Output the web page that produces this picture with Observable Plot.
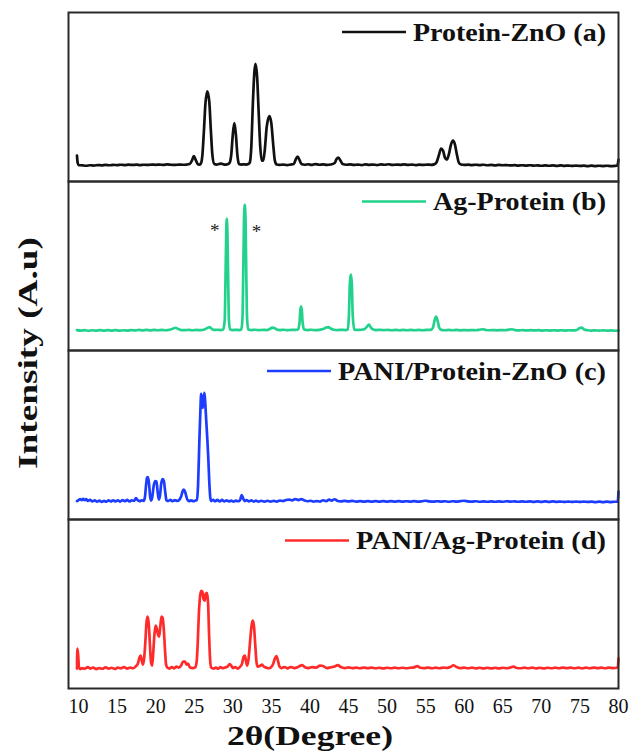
<!DOCTYPE html>
<html><head><meta charset="utf-8">
<script src="https://cdn.jsdelivr.net/npm/d3@7"></script>
<script src="https://cdn.jsdelivr.net/npm/@observablehq/plot@0.6"></script>
<style>body{margin:0;background:#fff}</style>
</head><body><div id="chart"></div>
<script>
// ---- data (2θ in degrees, intensity in arbitrary units) ----
const panels = ["a", "b", "c", "d"];
const seriesNames = ["Protein-ZnO (a)", "Ag-Protein (b)", "PANI/Protein-ZnO (c)", "PANI/Ag-Protein (d)"];
const seriesColors = ["#111111", "#22d18b", "#1c3cff", "#ff2b2b"];
const xTicks = [10, 15, 20, 25, 30, 35, 40, 45, 50, 55, 60, 65, 70, 75, 80];
const xTitle = "2θ(Degree)";
const yTitle = "Intensity (A.u)";
const asteriskMarks = [[27.67, 124], [33.07, 123]];

const proteinZnO = [
[9.8,26],[9.88,19],[10.0,16.5],[10.5,16.2],[11,15.8],[11.5,16.3],[12,16],[12.5,16.5],[13,16.2],[13.5,16.6],[14,16.3],[14.5,16.7],[15,16.4],[15.5,16.8],[16,16.5],[16.5,16.9],[17,16.6],[17.5,16.9],[18,16.5],[18.5,16.8],[19,16.6],[19.5,17],[20,16.7],[20.5,17],[21,16.6],[21.5,17.1],[22,16.8],[22.5,16.6],[23,17],[23.5,16.8],[24,17],[24.4,17.5],[24.7,21],[24.95,25.5],[25.2,21.5],[25.45,17.5],[25.65,17],[25.85,18],[26.05,26],[26.25,50],[26.45,78],[26.7,90.5],[26.95,80],[27.15,52],[27.35,27],[27.6,17.5],[27.9,17],[28.2,17.5],[28.5,18],[28.8,17.2],[29.1,17],[29.4,17.5],[29.6,19],[29.8,27],[30.0,47],[30.2,58.5],[30.4,47],[30.6,26],[30.8,17.5],[31.1,17],[31.4,17.2],[31.7,17],[32.0,17.5],[32.2,19],[32.4,35],[32.6,78],[32.8,110],[32.95,118],[33.15,105],[33.35,70],[33.55,36],[33.75,21],[33.95,21],[34.15,32],[34.4,55],[34.75,65.5],[35.0,58],[35.25,36],[35.45,21],[35.7,17],[36.0,16.6],[36.5,17],[37.0,16.5],[37.5,17],[37.9,17.5],[38.15,22],[38.4,25],[38.65,21.5],[38.9,17.5],[39.3,16.8],[39.8,17.3],[40.2,16.6],[40.7,17.5],[41.2,16.8],[41.7,17.2],[42.2,16.6],[42.7,17],[43.2,18.5],[43.45,22.5],[43.7,24],[43.95,21],[44.25,17.5],[44.7,16.8],[45.2,17.2],[45.7,16.6],[46.2,17],[46.7,16.5],[47.2,17.2],[47.7,16.7],[48.2,17],[48.7,16.5],[49.2,17.2],[49.7,16.8],[50.2,17.3],[50.7,16.6],[51.2,17],[51.7,16.7],[52.2,17.2],[52.7,16.6],[53.2,17],[53.7,16.5],[54.2,16.9],[54.7,16.6],[55.2,17],[55.7,16.7],[56.1,17.2],[56.4,19],[56.7,26],[57.0,33],[57.25,31],[57.5,24],[57.75,22],[58.0,27],[58.25,36],[58.55,41],[58.8,37],[59.05,27],[59.3,19],[59.6,17],[60.0,16.6],[60.5,16.9],[61,16.5],[61.5,16.8],[62,16.4],[62.5,16.8],[63,16.3],[63.5,16.6],[64,16.2],[64.5,16.6],[65,16.3],[65.5,16.5],[66,16.1],[66.5,16.4],[67,16],[67.5,16.3],[68,15.9],[68.5,16.3],[69,15.9],[69.5,16.2],[70,15.8],[70.5,16.2],[71,15.8],[71.5,16.1],[72,15.7],[72.5,16.1],[73,15.7],[73.5,16],[74,15.6],[74.5,16],[75,15.6],[75.5,15.9],[76,15.5],[76.5,15.9],[77,15.5],[77.5,15.8],[78,15.5],[78.5,15.8],[79,15.4],[79.5,15.6],[79.85,16],[79.95,19],[80,22]
];

const agProtein = [
[9.8,20.5],[10.3,20],[10.8,20.4],[11.3,19.8],[11.8,20.3],[12.3,19.9],[12.8,20.4],[13.3,20],[13.8,20.5],[14.3,20],[14.8,20.4],[15.3,19.9],[15.8,20.3],[16.3,20],[16.8,20.5],[17.3,20.1],[17.8,20.6],[18.3,20.2],[18.8,20.6],[19.3,20.2],[19.8,20.7],[20.3,20.3],[20.8,20.6],[21.3,20.3],[21.8,20.8],[22.2,21.8],[22.55,22.8],[22.9,21.6],[23.3,20.5],[23.8,20.4],[24.3,20.7],[24.8,20.3],[25.3,20.6],[25.8,20.4],[26.3,21],[26.7,22.5],[27.0,23.5],[27.3,21.5],[27.6,20.6],[28.0,20.8],[28.4,20.5],[28.75,21],[28.95,30],[29.05,70],[29.15,118],[29.22,132],[29.3,118],[29.4,70],[29.5,30],[29.65,21],[30.0,20.5],[30.4,20.7],[30.8,20.5],[31.1,21],[31.25,32],[31.35,75],[31.45,130],[31.55,146],[31.65,130],[31.75,75],[31.85,32],[32.0,21],[32.4,20.5],[32.9,20.8],[33.4,20.4],[33.9,20.7],[34.4,20.5],[34.8,21.5],[35.1,23],[35.4,22.5],[35.7,21],[36.1,20.5],[36.6,20.8],[37.1,20.4],[37.6,20.7],[38.1,20.6],[38.45,21],[38.65,28],[38.75,40],[38.85,44],[38.95,40],[39.05,28],[39.25,21],[39.7,20.5],[40.2,20.8],[40.7,20.4],[41.2,20.7],[41.7,21.5],[42.1,23],[42.4,23.5],[42.7,22],[43.1,20.8],[43.6,20.5],[44.1,20.7],[44.6,20.5],[44.9,21],[45.05,35],[45.18,68],[45.3,76],[45.42,68],[45.55,35],[45.75,21],[46.2,20.6],[46.7,20.8],[47.1,21.5],[47.4,24],[47.65,26],[47.9,23],[48.2,21],[48.6,20.5],[49.1,20.7],[49.6,20.4],[50.1,20.7],[50.6,20.3],[51.1,20.6],[51.6,20.3],[52.1,20.6],[52.6,20.3],[53.1,20.6],[53.6,20.3],[54.1,20.6],[54.6,20.3],[55.1,20.6],[55.6,20.6],[55.95,23],[56.15,30],[56.35,34],[56.55,30],[56.75,23],[57.0,20.7],[57.5,20.3],[58,20.6],[58.5,20.3],[59,20.6],[59.5,20.2],[60,20.5],[60.5,20.2],[61,20.5],[61.5,20.3],[62,20.8],[62.4,21.3],[62.8,20.6],[63.3,20.3],[63.8,20.5],[64.3,20.2],[64.8,20.5],[65.3,20.3],[65.8,20.9],[66.2,21.3],[66.6,20.5],[67.1,20.2],[67.6,20.4],[68.1,20.1],[68.6,20.4],[69.1,20.1],[69.6,20.4],[70.1,20],[70.6,20.3],[71.1,20],[71.6,20.3],[72.1,20],[72.6,20.3],[73.1,20],[73.6,20.3],[74.1,20.1],[74.6,20.6],[74.95,22.5],[75.25,23],[75.55,21],[76.0,20.3],[76.5,20],[77,20.2],[77.5,19.9],[78,20.2],[78.5,19.9],[79,20.1],[79.5,19.8],[80,19.9]
];

const paniProteinZnO = [
[9.8,18.5],[10.0,19.5],[10.2,20.5],[10.4,19.3],[10.6,20.6],[10.8,19.4],[11.0,20.5],[11.2,18.6],[11.5,19.6],[11.8,18.1],[12.1,19.1],[12.4,17.9],[12.7,18.9],[13.0,17.7],[13.3,18.7],[13.6,17.9],[13.9,19.1],[14.2,18.1],[14.5,19.3],[14.8,18.1],[15.1,19.1],[15.4,17.9],[15.7,19.4],[16.0,18.3],[16.3,19.6],[16.6,18.1],[16.9,19.3],[17.2,18.6],[17.45,21.5],[17.7,19.1],[17.95,18.4],[18.2,19.2],[18.45,18.7],[18.6,22],[18.75,34],[18.88,42],[19.0,42.5],[19.15,35],[19.3,22],[19.42,19],[19.55,22],[19.75,34],[19.95,38.5],[20.1,38],[20.28,26],[20.42,20],[20.56,24],[20.72,36],[20.9,40.5],[21.05,39],[21.25,27],[21.4,19.2],[21.6,18.5],[21.9,19.6],[22.2,18.3],[22.5,19.4],[22.8,18.6],[23.05,19.6],[23.3,23],[23.5,28.5],[23.65,30],[23.8,28],[23.95,24],[24.1,20],[24.3,18.3],[24.6,19.3],[24.9,18.3],[25.15,19.1],[25.35,19.5],[25.5,35],[25.65,75],[25.8,110],[25.9,126],[26.0,118],[26.1,112],[26.2,120],[26.32,127],[26.42,118],[26.55,100],[26.7,80],[26.82,62],[26.95,38],[27.08,22],[27.2,18.5],[27.45,19.8],[27.7,18.3],[28.0,19.6],[28.3,18.2],[28.6,19.6],[28.9,18.2],[29.2,19.1],[29.5,18.1],[29.8,19],[30.1,18],[30.4,19],[30.7,18.3],[30.95,19.6],[31.15,24.5],[31.35,21],[31.55,18.5],[31.8,19.5],[32.1,18.2],[32.4,19.1],[32.7,18],[33.0,18.9],[33.3,18],[33.7,18.8],[34.1,18],[34.5,18.8],[34.9,18],[35.3,18.7],[35.7,18],[36.1,19],[36.5,18.5],[36.9,19.5],[37.3,20],[37.7,19.2],[38.1,20.5],[38.5,19.5],[38.9,20.5],[39.3,19],[39.7,18.3],[40.1,18.8],[40.5,18],[40.9,18.5],[41.3,18],[41.7,19.3],[42.1,18.5],[42.5,20],[42.8,19],[43.2,20.3],[43.6,18.6],[44.0,18.2],[44.5,18.7],[45,18.2],[45.5,18.6],[46,18],[46.5,18.5],[47,18],[47.5,18.5],[48,18],[48.5,18.4],[49,17.9],[49.5,18.4],[50,18],[50.5,18.4],[51,18],[51.5,18.5],[52,17.9],[52.5,18.3],[53,17.9],[53.5,18.4],[54,18],[54.5,18.3],[55,18.8],[55.5,18.1],[56,17.9],[56.5,18.3],[57,17.9],[57.5,18.3],[58,17.8],[58.5,18.3],[59,17.9],[59.5,18.4],[60,18.8],[60.5,18.1],[61,17.9],[61.5,18.3],[62,17.8],[62.5,18.2],[63,17.8],[63.5,18.2],[64,17.8],[64.5,18.2],[65,17.8],[65.5,18.3],[66,17.9],[66.5,18.2],[67,17.8],[67.5,18.2],[68,17.8],[68.5,18.1],[69,17.7],[69.5,18.1],[70,17.7],[70.5,18.1],[71,17.7],[71.5,18.1],[72,17.7],[72.5,18],[73,17.6],[73.5,18],[74,17.6],[74.5,18],[75,17.6],[75.5,18],[76,17.6],[76.5,17.9],[77,17.5],[77.5,17.9],[78,17.5],[78.5,17.9],[79,17.5],[79.5,17.8],[79.9,17.8],[80,28]
];

const paniAgProtein = [
[9.8,20],[9.85,40],[9.95,34],[10.05,22],[10.2,19.5],[10.5,20.5],[10.8,19.8],[11.2,21.5],[11.5,20],[11.9,21],[12.3,19.5],[12.7,20.5],[13.1,19.8],[13.5,21.2],[13.9,20],[14.3,20.8],[14.7,19.6],[15.1,21],[15.5,20.2],[15.9,21.5],[16.3,20],[16.7,21],[17.1,20.3],[17.4,22],[17.7,25],[17.9,31],[18.05,33],[18.2,28],[18.35,24],[18.5,30],[18.65,45],[18.8,65],[18.95,72],[19.1,65],[19.25,45],[19.4,26],[19.55,23],[19.7,38],[19.85,55],[20.0,63],[20.15,60],[20.3,54],[20.45,52],[20.6,62],[20.75,72],[20.9,71],[21.05,60],[21.2,40],[21.35,24],[21.5,21],[21.8,20],[22.1,21.5],[22.4,20.2],[22.7,22],[23.0,21],[23.3,23],[23.55,27],[23.8,27],[24.0,24],[24.2,25],[24.45,21],[24.8,20.5],[25.1,21],[25.3,26],[25.45,45],[25.6,75],[25.75,92],[25.9,98],[26.05,97],[26.2,90],[26.35,88],[26.5,95],[26.65,96],[26.8,85],[26.92,55],[27.05,30],[27.2,21],[27.5,20],[27.8,21],[28.1,19.8],[28.4,21.5],[28.7,20.3],[29.0,21],[29.3,22],[29.6,24.5],[29.8,23],[30.0,20.5],[30.3,21.5],[30.6,20],[30.9,21.5],[31.2,25],[31.4,32],[31.55,33],[31.7,28],[31.85,23],[32.05,30],[32.25,48],[32.45,64],[32.6,68],[32.75,62],[32.9,45],[33.05,28],[33.2,22],[33.5,22.5],[33.8,24],[34.0,22],[34.3,21],[34.6,20.3],[34.9,21],[35.2,24],[35.45,30],[35.65,32.5],[35.85,28],[36.05,22],[36.3,20.5],[36.7,21.5],[37.1,20.2],[37.5,21.5],[38.0,20.5],[38.5,21.8],[39.0,23.5],[39.4,21],[39.8,20.5],[40.3,21.5],[40.8,21],[41.3,23],[41.7,22.5],[42.2,20.5],[42.7,21.3],[43.2,22],[43.6,23.5],[44.0,21.5],[44.5,20.5],[45,21.2],[45.5,20.4],[46,20.9],[46.5,20.3],[47,21],[47.5,20.4],[48,20.9],[48.5,20.3],[49,20.8],[49.5,20.2],[50,20.8],[50.5,20.3],[51,20.9],[51.5,20.3],[52,20.8],[52.5,20.3],[53,20.8],[53.5,21.2],[53.9,22.5],[54.3,20.8],[54.8,20.4],[55.3,21],[55.8,20.3],[56.3,20.9],[56.8,20.3],[57.3,21],[57.8,20.6],[58.2,21.5],[58.6,23.3],[59.0,21.5],[59.5,20.4],[60,20.9],[60.5,20.3],[61,20.9],[61.5,20.2],[62,20.8],[62.5,20.2],[63,20.8],[63.5,20.2],[64,20.8],[64.5,20.2],[65,20.8],[65.5,20.3],[66,21],[66.4,22],[66.8,20.6],[67.3,20.3],[67.8,20.9],[68.3,20.3],[68.8,20.9],[69.3,20.2],[69.8,20.8],[70.3,20.2],[70.8,20.8],[71.3,20.3],[71.8,20.9],[72.3,20.3],[72.8,21],[73.3,20.4],[73.8,20.9],[74.3,20.3],[74.8,20.9],[75.3,20.2],[75.8,20.9],[76.3,20.3],[76.8,21],[77.3,20.4],[77.8,20.9],[78.3,20.3],[78.8,21],[79.3,20.4],[79.9,21],[80.0,30]
];

const allSeries = [proteinZnO, agProtein, paniProteinZnO, paniAgProtein];

// ---- layout ----
const W = 633, H = 753, mL = 68, mR = 15, mT = 11, mB = 64;
const serif = "'Liberation Serif','Times New Roman',serif";
const toRows = (pts, panel) => pts.map(([t, v]) => ({t, v, panel}));

const plot = Plot.plot({
  width: W, height: H,
  marginLeft: mL, marginRight: mR, marginTop: mT, marginBottom: mB,
  style: {fontFamily: serif, background: "#fff", color: "#111"},
  x: {domain: [8.7, 80]},
  y: {domain: [0, 169.5], axis: null},
  fy: {domain: panels, padding: 0, axis: null},
  marks: [
    ...allSeries.map((s, i) => Plot.line(toRows(s, panels[i]), {
      x: "t", y: "v", fy: "panel", stroke: seriesColors[i], strokeWidth: 2.7, curve: "monotone-x"
    })),
    Plot.text(toRows(asteriskMarks, "b"), {x: "t", y: "v", fy: "panel", text: () => "*", fontSize: 19, fill: "#222", dy: 4}),
    Plot.frame({stroke: "#2a2a2a", strokeWidth: 2}),
    Plot.axisX({ticks: xTicks, tickSize: 0, tickPadding: 10, fontSize: 20, label: null})
  ]
});
document.getElementById("chart").appendChild(plot);

// ---- legends and titles (text) ----
const svg = d3.select(plot);
svg.selectAll('g[aria-label="x-axis tick label"]').attr("font-size", 20);
const panelH = (H - mT - mB) / panels.length;
const legendWidths = [193, 173, 268, 250];
const legendRight = 606;
seriesNames.forEach((name, i) => {
  const top = mT + i * panelH;
  const w = legendWidths[i];
  const textStart = legendRight - w;
  svg.append("line")
    .attr("x1", textStart - 7 - 64).attr("x2", textStart - 7)
    .attr("y1", top + 21).attr("y2", top + 21)
    .attr("stroke", seriesColors[i]).attr("stroke-width", 2.5);
  svg.append("text")
    .attr("x", textStart).attr("y", top + 29.5)
    .attr("text-anchor", "start")
    .attr("font-family", serif).attr("font-weight", "bold").attr("font-size", 25)
    .attr("fill", "#111")
    .attr("textLength", w).attr("lengthAdjust", "spacingAndGlyphs")
    .text(name);
});
svg.append("text")
  .attr("transform", "translate(37,353) rotate(-90)")
  .attr("x", -116).attr("y", 0)
  .attr("text-anchor", "start")
  .attr("font-family", serif).attr("font-weight", "bold").attr("font-size", 28)
  .attr("fill", "#111")
  .attr("textLength", 232).attr("lengthAdjust", "spacingAndGlyphs")
  .text(yTitle);
svg.append("text")
  .attr("x", 227).attr("y", 745)
  .attr("text-anchor", "start")
  .attr("font-family", serif).attr("font-weight", "bold").attr("font-size", 28)
  .attr("fill", "#111")
  .attr("textLength", 166).attr("lengthAdjust", "spacingAndGlyphs")
  .text(xTitle);
</script>
</body></html>
